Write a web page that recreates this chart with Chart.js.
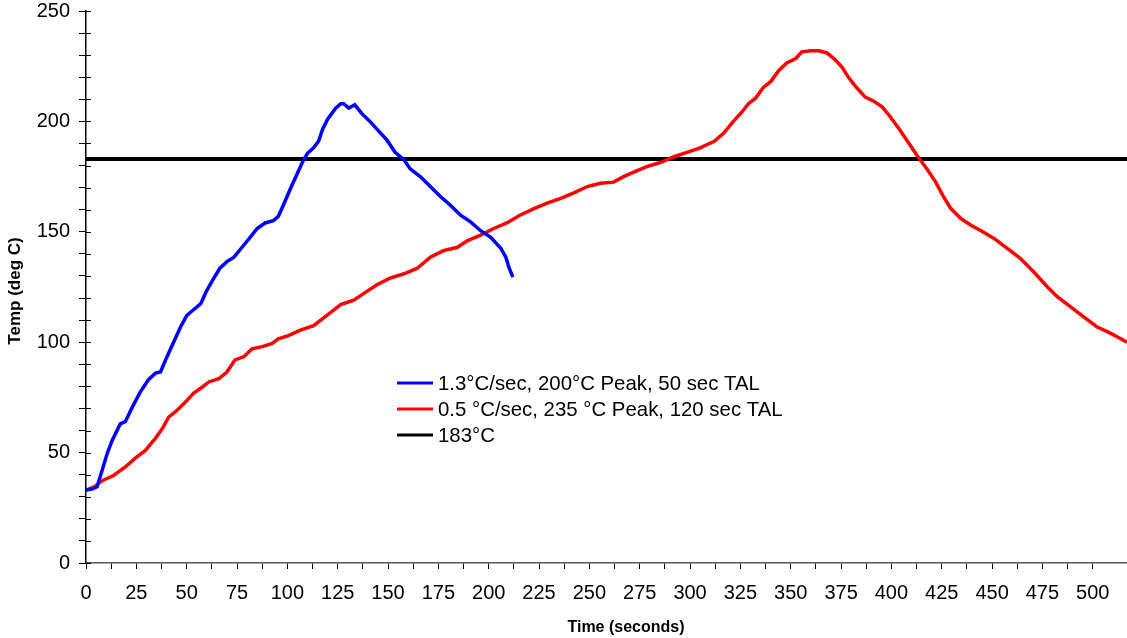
<!DOCTYPE html>
<html>
<head>
<meta charset="utf-8">
<script src="https://cdn.jsdelivr.net/npm/chart.js@4.4.0/dist/chart.umd.min.js"></script>
<style>
html,body{margin:0;padding:0;background:#fff;}
#wrap{width:1127px;height:638px;}
</style>
</head>
<body>
<div id="wrap"><canvas id="c" width="1127" height="638"></canvas></div>
<script>
// ---- data ----
const blueTime = [
  0, 3, 5.5, 7, 10.5, 13, 17, 19.5, 23.5, 27,
  31, 34.5, 37, 40, 43.5, 47, 50, 52.5, 57, 60,
  63.5, 66.5, 70, 73.5, 77.5, 81.5, 85, 89, 93, 95.5,
  98, 101.5, 105, 108, 110, 113, 115.5, 117.5, 120, 124,
  126.5, 128, 130.5, 133.5, 137, 141, 145.5, 149.5, 153.5, 158,
  161, 166, 171, 176, 181, 186, 191, 196, 201, 206,
  208.5, 210, 212
];
const blueTemp = [
  33, 33.5, 34.5, 39, 49.5, 55.5, 63, 64, 71.5, 77.5,
  83, 86, 86.5, 93, 100, 107, 112, 114, 117.5, 123.5,
  129, 133.5, 136.5, 138.5, 143, 147.5, 151.5, 154, 155, 157,
  162, 169.5, 176.5, 182.5, 185.5, 188, 191, 196.5, 201, 206,
  208, 208, 206, 207.5, 203.5, 200, 195.5, 191.5, 186, 182.5,
  178.5, 175, 170.5, 166, 162, 157.5, 154.5, 150.5, 147.5, 142.5,
  138.5, 134, 129.5
];
const redTime = [
  0, 4, 8.5, 13.5, 19.5, 24.5, 29.5, 34.5, 38, 41,
  45, 49.5, 53.5, 57.5, 61, 66, 70, 74, 78.5, 82.5,
  87.5, 92.5, 95.5, 100.5, 106.5, 113, 119.5, 126.5, 133, 139.5,
  144.5, 151, 158, 164.5, 171, 177.5, 184.5, 189.5, 196, 202.5,
  209, 215.5, 222.5, 229, 235.5, 242, 249, 255.5, 262, 267,
  272, 278.5, 285.5, 292, 298.5, 305, 312, 316.5, 321.5, 326,
  329, 332.5, 336.5, 340, 344, 348, 352.5, 355.5, 360, 364,
  368, 372, 375.5, 379, 383, 387, 391.5, 395.5, 399.5, 403.5,
  408, 413.5, 418, 422, 425.5, 429.5, 434.5, 439.5, 444.5, 451,
  457.5, 464, 470.5, 477.5, 482.5, 489, 495.5, 502, 509, 517
];
const redTemp = [
  33, 34.5, 37.5, 39.5, 43.5, 47.5, 51, 56.5, 61, 66,
  69, 73, 77, 79.5, 82, 83.5, 86.5, 92, 93.5, 97,
  98, 99.5, 101.5, 103, 105.5, 107.5, 112, 117, 119, 123,
  126, 129, 131, 133.5, 138.5, 141.5, 143, 146, 148.5, 151.5,
  154, 157.5, 160.5, 163, 165, 167.5, 170.5, 172, 172.5, 175,
  177, 179.5, 181.5, 184, 186, 188, 191, 194.5, 200, 204.5,
  208, 210.5, 215.5, 218, 223, 226.5, 228.5, 231.5, 232, 232,
  231, 228, 224.5, 219.5, 215, 211, 209, 206.5, 202, 197,
  191, 183.5, 178, 172.5, 166.5, 160.5, 156, 153, 150.5, 147,
  142.5, 138, 132, 125, 120.5, 116, 111.5, 107, 104, 100
];
const refTime = [0, 517];
const refTemp = [183, 183];

const seriesLabels = [
  '1.3°C/sec, 200°C Peak, 50 sec TAL',
  '0.5 °C/sec, 235 °C Peak, 120 sec TAL',
  '183°C'
];
const xTitle = 'Time (seconds)';
const yTitle = 'Temp (deg C)';
const xMin = 0, xMax = 517, xStep = 12.5, xLabelStep = 25;
const yMin = 0, yMax = 250, yStep = 10, yLabelStep = 50;

// ---- chart ----
const FONT = "'Liberation Sans', Arial, Helvetica, sans-serif";
const pts = (xs, ys) => xs.map((x, i) => ({x: x, y: ys[i]}));

const decor = {
  id: 'decor',
  afterDraw(chart) {
    const ctx = chart.ctx, a = chart.chartArea, ys = chart.scales.y;
    ctx.save();
    // inner half of the y tick marks (they cross the axis)
    ctx.strokeStyle = '#000';
    ctx.lineWidth = 1;
    ys.ticks.forEach(t => {
      const py = Math.round(ys.getPixelForValue(t.value)) + 0.5;
      ctx.beginPath(); ctx.moveTo(a.left, py); ctx.lineTo(a.left + 5, py); ctx.stroke();
    });
    // legend inside the plot
    ctx.font = '20.4px ' + FONT;
    ctx.textBaseline = 'middle';
    ctx.textAlign = 'left';
    ctx.fillStyle = '#000';
    const lx = a.left + 311, ly = 383, dy = 26;
    chart.data.datasets.forEach((ds, i) => {
      const y = ly + i * dy;
      ctx.strokeStyle = ds.borderColor;
      ctx.lineWidth = 3;
      ctx.beginPath(); ctx.moveTo(lx, y); ctx.lineTo(lx + 36, y); ctx.stroke();
      ctx.fillText(ds.label, lx + 41, y + 1);
    });
    // axis titles
    ctx.font = 'bold 16px ' + FONT;
    ctx.textAlign = 'center';
    ctx.fillText(xTitle, 626, 628);
    ctx.font = 'bold 17px ' + FONT;
    ctx.translate(15, 291);
    ctx.rotate(-Math.PI / 2);
    ctx.fillText(yTitle, 0, 0);
    ctx.restore();
  }
};

new Chart(document.getElementById('c'), {
  type: 'scatter',
  data: {
    datasets: [
      {label: seriesLabels[0], data: pts(blueTime, blueTemp), borderColor: '#0000ff', backgroundColor: '#0000ff',
       borderWidth: 3.5, showLine: true, pointRadius: 0, tension: 0, fill: false},
      {label: seriesLabels[1], data: pts(redTime, redTemp), borderColor: '#ff0000', backgroundColor: '#ff0000',
       borderWidth: 3.5, showLine: true, pointRadius: 0, tension: 0, fill: false},
      {label: seriesLabels[2], data: pts(refTime, refTemp), borderColor: '#000000', backgroundColor: '#000000',
       borderWidth: 4, showLine: true, pointRadius: 0, tension: 0, fill: false}
    ]
  },
  options: {
    responsive: false,
    animation: false,
    devicePixelRatio: 1,
    layout: {padding: {top: 11, right: 0, bottom: 0, left: 0}},
    plugins: {legend: {display: false}, tooltip: {enabled: false}},
    scales: {
      x: {
        type: 'linear', min: xMin, max: xMax,
        border: {display: true, color: '#555', width: 1.5},
        grid: {display: true, drawOnChartArea: false, drawTicks: true, tickLength: 6, color: '#000', lineWidth: 1},
        ticks: {
          stepSize: xStep, autoSkip: false, maxRotation: 0, minRotation: 0, padding: 12, color: '#000',
          font: {family: FONT, size: 20, lineHeight: 1.2},
          callback: v => (v % xLabelStep === 0 ? String(v) : '')
        },
        afterBuildTicks: s => {
          s.ticks = s.ticks.filter(t => Math.abs(t.value / xStep - Math.round(t.value / xStep)) < 1e-6);
        },
        afterFit: s => { s.height = 75; s.paddingRight = 0; }
      },
      y: {
        type: 'linear', min: yMin, max: yMax,
        border: {display: true, color: '#000', width: 1.5},
        grid: {display: true, drawOnChartArea: false, drawTicks: true, tickLength: 7, color: '#000', lineWidth: 1},
        ticks: {
          stepSize: yStep, autoSkip: false, padding: 9, color: '#000',
          font: {family: FONT, size: 20, lineHeight: 1},
          callback: v => (v % yLabelStep === 0 ? String(v) : '')
        },
        afterFit: s => { s.width = 86; s.paddingTop = 11; s.paddingBottom = 0; }
      }
    }
  },
  plugins: [decor]
});
</script>
</body>
</html>
